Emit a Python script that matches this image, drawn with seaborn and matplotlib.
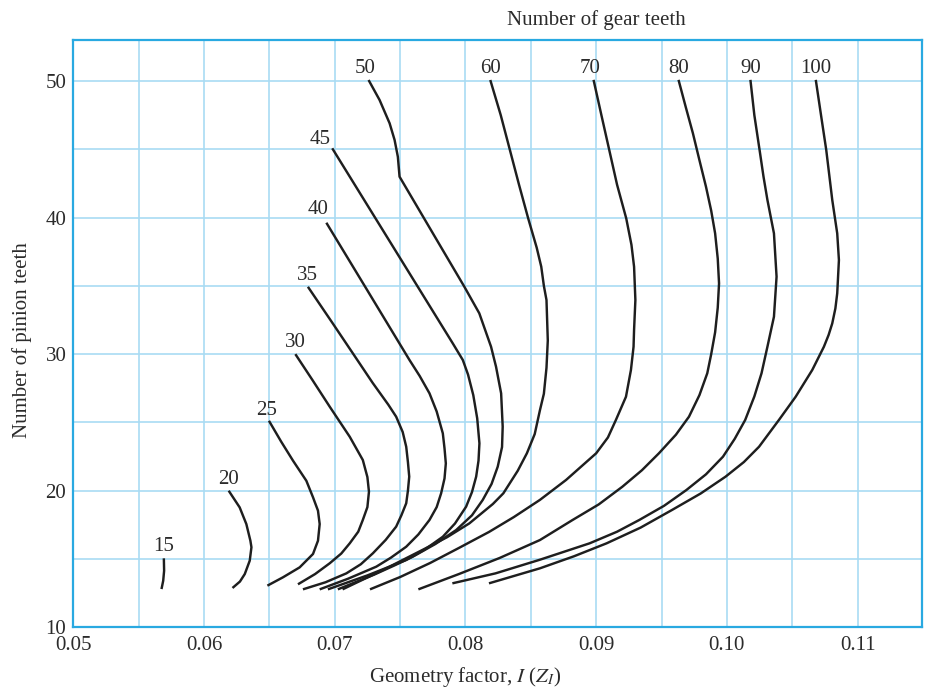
import numpy as np
import pandas as pd
import matplotlib
matplotlib.use("Agg")
import matplotlib.pyplot as plt
from matplotlib.ticker import MultipleLocator
import seaborn as sns

# ---------------- data ----------------
gear_teeth = [15, 20, 25, 30, 35, 40, 45, 50, 60, 70, 80, 90, 100]

i_15 = [0.05693, 0.05695, 0.05688, 0.05675]
n_15 = [15.05, 14.14, 13.41, 12.80]

i_20 = [0.06189, 0.06273, 0.06324, 0.06355, 0.06363, 0.06350, 0.06312, 0.06275, 0.06218]
n_20 = [20.00, 18.78, 17.56, 16.34, 15.86, 14.88, 13.90, 13.35, 12.88]

i_25 = [0.06497, 0.06590, 0.06681, 0.06783, 0.06834, 0.06872, 0.06885, 0.06872, 0.06834, 0.06732, 0.06604, 0.06485]
n_25 = [25.12, 23.60, 22.20, 20.73, 19.52, 18.54, 17.56, 16.34, 15.37, 14.39, 13.66, 13.05]

i_30 = [0.06699, 0.06830, 0.06962, 0.07115, 0.07215, 0.07250, 0.07262, 0.07250, 0.07215, 0.07180,
        0.07115, 0.07050, 0.06962, 0.06850, 0.06719]
n_30 = [30.00, 28.10, 26.15, 23.95, 22.25, 21.00, 19.93, 18.80, 17.86, 17.00,
        16.15, 15.40, 14.69, 13.90, 13.15]

i_35 = [0.06795, 0.06985, 0.07173, 0.07290, 0.07410, 0.07470, 0.07520, 0.07547, 0.07560, 0.07570,
        0.07560, 0.07547, 0.07510, 0.07470, 0.07390, 0.07292, 0.07200, 0.07089, 0.06930, 0.06757]
n_35 = [34.93, 32.25, 29.57, 27.90, 26.30, 25.42, 24.30, 23.22, 22.10, 21.03,
        20.00, 19.08, 18.20, 17.37, 16.40, 15.42, 14.62, 13.95, 13.30, 12.78]

i_40 = [0.06936, 0.07254, 0.07572, 0.07650, 0.07725, 0.07780, 0.07827, 0.07840, 0.07850, 0.07840,
        0.07814, 0.07780, 0.07725, 0.07640, 0.07547, 0.07430, 0.07318, 0.07100, 0.06885]
n_40 = [39.62, 34.60, 29.57, 28.40, 27.13, 25.80, 24.20, 23.10, 22.00, 20.90,
        19.81, 18.80, 17.86, 16.80, 15.90, 15.10, 14.44, 13.55, 12.78]

i_45 = [0.06981, 0.07442, 0.07903, 0.07980, 0.08020, 0.08060, 0.08090, 0.08107, 0.08100, 0.08082,
        0.08050, 0.08005, 0.07920, 0.07827, 0.07690, 0.07547, 0.07250, 0.06948]
n_45 = [45.07, 37.93, 30.79, 29.57, 28.50, 27.00, 25.30, 23.47, 22.20, 21.03,
        19.90, 18.83, 17.60, 16.63, 15.70, 14.93, 13.80, 12.78]

i_50 = [0.07259, 0.07343, 0.07420, 0.07458, 0.07483, 0.07496, 0.07766, 0.07992, 0.08106, 0.08196,
        0.08234, 0.08273, 0.08285, 0.08280, 0.08247, 0.08200, 0.08132, 0.08050, 0.07929, 0.07770,
        0.07597, 0.07450, 0.07300, 0.07024]
n_50 = [50.07, 48.61, 46.90, 45.68, 44.45, 42.99, 38.60, 34.93, 32.99, 30.54,
        29.08, 27.13, 24.69, 23.20, 21.76, 20.50, 19.32, 18.20, 17.12, 16.10,
        15.17, 14.50, 13.85, 12.78]

i_60 = [0.0819, 0.0827, 0.0834, 0.0841, 0.0848, 0.08545, 0.0858, 0.0860, 0.0862, 0.0863, 0.0862,
        0.0860, 0.0857, 0.0853, 0.0847, 0.0840, 0.0829, 0.0821, 0.0803, 0.0786, 0.0767, 0.0737, 0.0706]
n_60 = [50.07, 47.50, 44.95, 42.40, 39.94, 37.80, 36.40, 35.00, 33.96, 31.00, 29.00,
        27.10, 25.90, 24.15, 22.74, 21.46, 19.81, 19.03, 17.61, 16.60, 15.66, 14.20, 12.78]

i_70 = [0.0898, 0.0904, 0.0910, 0.0916, 0.0923, 0.0927, 0.0929, 0.0930, 0.0929, 0.09286, 0.09266,
        0.09228, 0.09151, 0.0909, 0.0900, 0.0877, 0.0857, 0.0837, 0.0818, 0.0795, 0.0773, 0.0750, 0.0727]
n_70 = [50.08, 47.50, 44.95, 42.40, 39.94, 38.00, 36.40, 33.96, 31.78, 30.54, 28.84,
        26.88, 25.18, 23.90, 22.74, 20.79, 19.33, 18.07, 16.98, 15.81, 14.71, 13.68, 12.78]

i_80 = [0.0963, 0.09685, 0.0974, 0.0979, 0.0984, 0.0988, 0.0991, 0.0993, 0.0994, 0.0993, 0.0991,
        0.0988, 0.0985, 0.0979, 0.0971, 0.0961, 0.0948, 0.0935, 0.0920, 0.0902, 0.0882, 0.0857,
        0.0826, 0.0795, 0.0764]
n_80 = [50.08, 48.10, 46.17, 44.20, 42.26, 40.50, 38.84, 37.00, 35.18, 33.40, 31.60,
        30.00, 28.60, 27.00, 25.42, 24.10, 22.74, 21.50, 20.29, 19.00, 17.86, 16.39,
        15.07, 13.90, 12.78]

i_90 = [0.1018, 0.1021, 0.1025, 0.1028, 0.1031, 0.1036, 0.1038, 0.1036, 0.1031, 0.10265, 0.1021,
        0.1014, 0.1006, 0.0997, 0.0984, 0.0969, 0.0952, 0.0933, 0.0916, 0.0895, 0.0857, 0.0823, 0.0790]
n_90 = [50.08, 47.50, 44.95, 43.00, 41.29, 38.84, 35.67, 32.74, 30.54, 28.60, 26.90,
        25.18, 23.80, 22.49, 21.20, 20.05, 18.90, 17.86, 17.00, 16.15, 14.95, 13.95, 13.22]

i_100 = [0.1068, 0.1072, 0.1076, 0.10806, 0.10844, 0.10857, 0.10844, 0.10830, 0.10806, 0.10778,
         0.10742, 0.10653, 0.10526, 0.10398, 0.10246, 0.1013, 0.0999, 0.0980, 0.0958, 0.0934,
         0.0908, 0.0883, 0.0857, 0.0818]
n_100 = [50.08, 47.50, 44.95, 41.29, 38.84, 36.89, 34.45, 33.35, 32.25, 31.40,
         30.54, 28.84, 26.88, 25.18, 23.22, 22.10, 21.03, 19.80, 18.59, 17.30,
         16.15, 15.20, 14.32, 13.22]

x_ticks = [0.05, 0.06, 0.07, 0.08, 0.09, 0.10, 0.11]
x_tick_labels = ["0.05", "0.06", "0.07", "0.08", "0.09", "0.10", "0.11"]
y_ticks = [10, 20, 30, 40, 50]

series_i = [i_15, i_20, i_25, i_30, i_35, i_40, i_45, i_50, i_60, i_70, i_80, i_90, i_100]
series_n = [n_15, n_20, n_25, n_30, n_35, n_40, n_45, n_50, n_60, n_70, n_80, n_90, n_100]

frames = []
for g, xs, ys in zip(gear_teeth, series_i, series_n):
    frames.append(pd.DataFrame({"I": xs, "N": ys, "teeth": g, "order": range(len(xs))}))
df = pd.concat(frames, ignore_index=True)

# ---------------- style ----------------
sns.set_style("white")
plt.rcParams["font.family"] = ["Liberation Serif", "DejaVu Serif"]
plt.rcParams["mathtext.fontset"] = "stix"

TEXT = "#2b2b2b"
SPINE = "#29a9e1"
GRID = "#a9dcf3"

fig = plt.figure(figsize=(9.25, 6.88), dpi=100)
ax = fig.add_axes([0.0792, 0.0882, 0.9172, 0.8537])

sns.lineplot(data=df, x="I", y="N", units="teeth", estimator=None, sort=False,
             color="#1e1e1e", linewidth=1.75, ax=ax, legend=False)
for ln in ax.lines:
    ln.set_solid_joinstyle("round")
    ln.set_solid_capstyle("butt")

ax.set_xlim(0.05, 0.1149)
ax.set_ylim(10, 53)
ax.set_xticks(x_ticks)
ax.set_xticklabels(x_tick_labels)
ax.set_yticks(y_ticks)
ax.xaxis.set_minor_locator(MultipleLocator(0.005))
ax.yaxis.set_minor_locator(MultipleLocator(5))
ax.grid(True, which="both", color=GRID, linewidth=1.2)
ax.set_axisbelow(True)
ax.tick_params(which="both", length=0)
ax.tick_params(axis="x", pad=6, labelsize=15, labelcolor=TEXT)
ax.tick_params(axis="y", pad=5, labelsize=15, labelcolor=TEXT)
for s in ax.spines.values():
    s.set_color(SPINE)
    s.set_linewidth(1.6)
    s.set_visible(True)

# curve labels
label_offsets = {25: (-2, 6), 40: (-8, 9), 45: (-12, 4), 50: (-3, 7), 70: (-3, 7)}
for g, xs, ys in zip(gear_teeth, series_i, series_n):
    dx, dy = label_offsets.get(g, (0, 7))
    ax.annotate(str(g), xy=(xs[0], ys[0]), xytext=(dx, dy), textcoords="offset pixels",
                ha="center", va="baseline", fontsize=15, color=TEXT)

ax.set_xlabel(r"Geometry factor, $I$ ($Z_I$)", fontsize=15, color=TEXT)
ax.xaxis.set_label_coords(0.462, -0.0846)
ax.xaxis.label.set_va("center")
ax.set_ylabel("Number of pinion teeth", fontsize=15, color=TEXT)
ax.yaxis.set_label_coords(-0.0605, 0.489)
ax.yaxis.label.set_va("center")

ax.text(0.616, 1.034, "Number of gear teeth", transform=ax.transAxes,
        ha="center", va="center", fontsize=15, color=TEXT)

fig.savefig("out.png", dpi=100)
